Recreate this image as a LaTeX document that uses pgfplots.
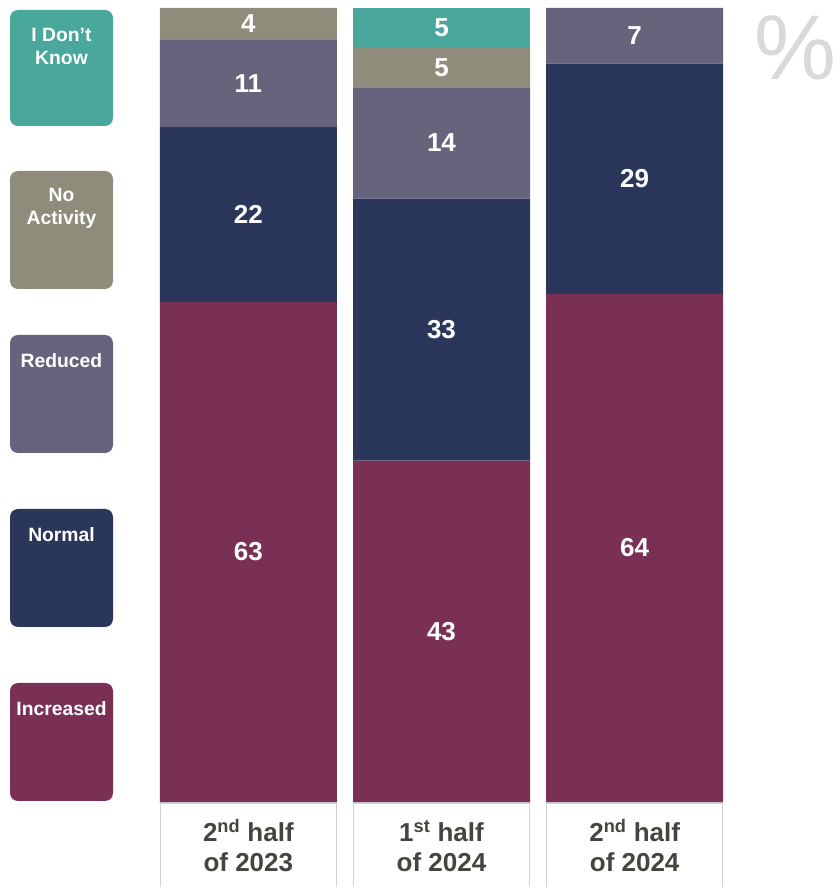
\documentclass[border=0pt]{standalone}
\usepackage{pgfplots}
\pgfplotsset{compat=1.18}
\usepackage{fontspec}
\setmainfont{Liberation Sans}

\definecolor{cInc}{HTML}{7A3055}
\definecolor{cNorm}{HTML}{2A365A}
\definecolor{cRed}{HTML}{67637C}
\definecolor{cNoAct}{HTML}{8F8C7B}
\definecolor{cIdk}{HTML}{4AA79C}
\definecolor{tickgray}{HTML}{45453F}
\definecolor{boxgray}{HTML}{D2D2D2}

\begin{document}
\begin{tikzpicture}[x=1pt,y=1pt]
% legend boxes
\fill[cIdk, rounded corners=8pt]   (10,761) rectangle (113,877);
\fill[cNoAct, rounded corners=8pt] (10,598) rectangle (113,716);
\fill[cRed, rounded corners=8pt]   (10,434) rectangle (113,552);
\fill[cNorm, rounded corners=8pt]  (10,260) rectangle (113,378);
\fill[cInc, rounded corners=8pt]   (10,86)  rectangle (113,204);
\begin{scope}[every node/.style={text=white, font=\bfseries\fontsize{19.3}{23}\selectfont, align=center, inner sep=0}]
\node at (61.5,840.5) {I Don’t\\Know};
\node at (61.5,678.5) {No\\Activity};
\node at (61.5,526) {Reduced};
\node at (61.5,352) {Normal};
\node at (61.5,178) {Increased};
\end{scope}
\node[text=black!15, font=\fontsize{92}{92}\selectfont, inner sep=0, anchor=base] at (795,807) {\%};

\begin{axis}[
  at={(151.75pt,85pt)}, anchor=south west,
  scale only axis, width=579.5pt, height=794pt,
  xmin=-0.5, xmax=2.5, ymin=0, ymax=100,
  ybar stacked, bar width=177pt,
  axis line style={draw=none},
  ytick=\empty, xtick={0,1,2},
  major tick length=0pt,
  xticklabels={{2\textsuperscript{nd} half\\of 2023},{1\textsuperscript{st} half\\of 2024},{2\textsuperscript{nd} half\\of 2024}},
  xticklabel style={draw=boxgray, line width=1.5pt, minimum width=176pt, minimum height=86pt,
    align=center, anchor=north, inner sep=0pt, yshift=0pt,
    font=\bfseries\fontsize{26}{30}\selectfont, text=tickgray},
  point meta=explicit symbolic,
  nodes near coords={\ifdim\pgfplotspointmeta pt=0pt\else\pgfplotspointmeta\fi},
  every node near coord/.append style={anchor=center, text=white,
    font=\bfseries\fontsize{26}{26}\selectfont},
  clip=false,
]
\addplot[fill=cInc, draw=none] coordinates {(0,63)[63] (1,43)[43] (2,64)[64]};
\addplot[fill=cNorm, draw=none] coordinates {(0,22)[22] (1,33)[33] (2,29)[29]};
\addplot[fill=cRed, draw=none] coordinates {(0,11)[11] (1,14)[14] (2,7)[7]};
\addplot[fill=cNoAct, draw=none] coordinates {(0,4)[4] (1,5)[5] (2,0)[0]};
\addplot[fill=cIdk, draw=none] coordinates {(0,0)[0] (1,5)[5] (2,0)[0]};
\end{axis}
\pgfresetboundingbox
\useasboundingbox (0,0) rectangle (838,887);
\end{tikzpicture}
\end{document}
